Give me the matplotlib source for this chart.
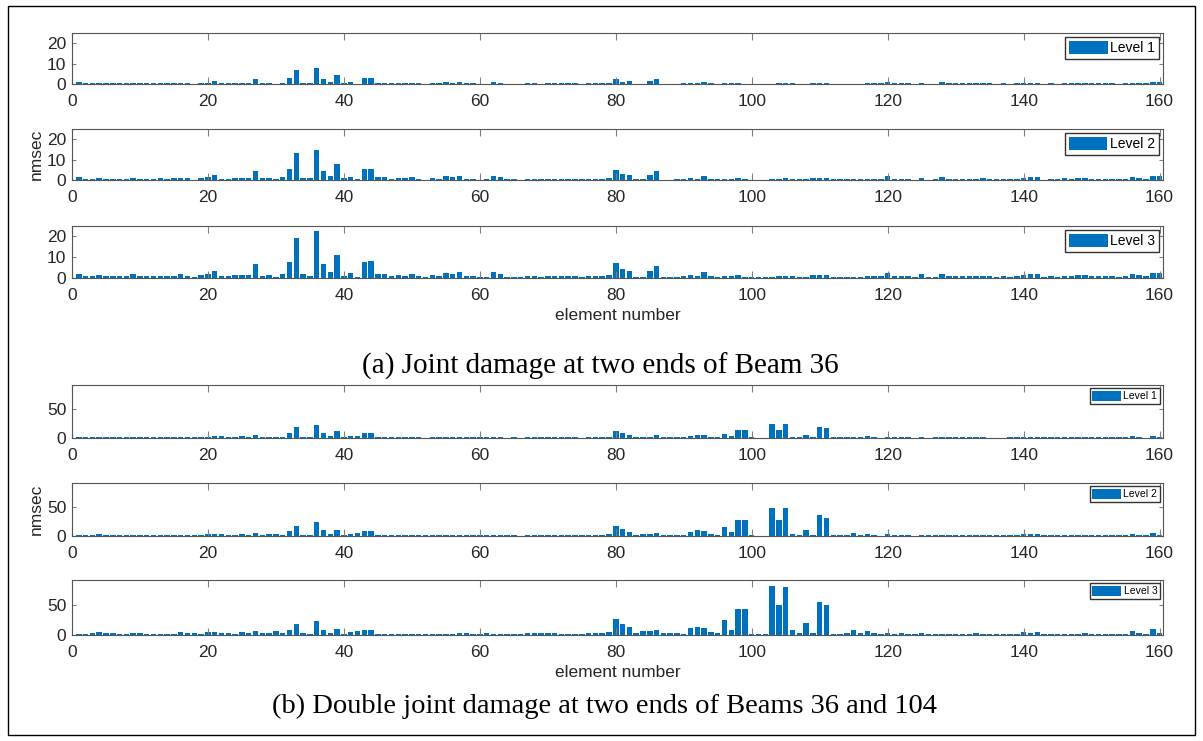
import numpy as np
import matplotlib.pyplot as plt
from matplotlib.patches import Rectangle

# nmsec values for elements 1..160
a_level1 = [
    0.8, 0.3, 0.3, 0.6, 0.3, 0.3, 0.4, 0.3, 0.6, 0.4,
    0.3, 0.3, 0.4, 0.4, 0.4, 0.6, 0.4, 0.1, 0.5, 0.7,
    1.3, 0.4, 0.4, 0.5, 0.5, 0.5, 2.3, 0.4, 0.5, 0.2,
    0.7, 3.0, 7.0, 0.6, 0.4, 8.0, 2.5, 1.1, 4.3, 0.4,
    0.8, 0.2, 2.8, 3.0, 0.7, 0.7, 0.3, 0.5, 0.4, 0.7,
    0.3, 0.1, 0.6, 0.4, 0.9, 0.7, 1.0, 0.4, 0.3, 0.1,
    0.2, 1.1, 0.7, 0.2, 0.2, 0.1, 0.4, 0.3, 0.2, 0.4,
    0.3, 0.3, 0.4, 0.3, 0.2, 0.4, 0.3, 0.3, 0.5, 2.3,
    1.0, 1.5, 0.2, 0.2, 1.3, 2.3, 0.1, 0.1, 0.2, 0.4,
    0.5, 0.4, 1.2, 0.4, 0.2, 0.4, 0.4, 0.5, 0.2, 0.1,
    0.1, 0.1, 0.2, 0.4, 0.5, 0.4, 0.2, 0.2, 0.5, 0.5,
    0.5, 0.2, 0.2, 0.2, 0.2, 0.2, 0.4, 0.4, 0.4, 1.0,
    0.4, 0.4, 0.4, 0.1, 0.6, 0.1, 0.2, 0.8, 0.4, 0.3,
    0.4, 0.3, 0.4, 0.4, 0.4, 0.2, 0.4, 0.2, 0.3, 0.5,
    0.7, 0.7, 0.1, 0.4, 0.2, 0.4, 0.3, 0.5, 0.5, 0.3,
    0.3, 0.3, 0.3, 0.2, 0.3, 0.7, 0.5, 0.4, 0.9, 0.9,
]
a_level2 = [
    1.5, 0.6, 0.6, 1.2, 0.6, 0.6, 0.7, 0.6, 1.1, 0.7,
    0.6, 0.6, 0.8, 0.7, 0.8, 1.2, 0.8, 0.2, 0.9, 1.3,
    2.5, 0.7, 0.7, 0.9, 1.0, 0.9, 4.5, 0.8, 0.9, 0.4,
    1.3, 5.5, 13.0, 1.2, 0.8, 14.5, 4.5, 2.0, 8.0, 0.8,
    1.5, 0.4, 5.2, 5.5, 1.4, 1.3, 0.5, 1.0, 0.8, 1.4,
    0.6, 0.2, 1.1, 0.7, 1.8, 1.4, 1.9, 0.7, 0.6, 0.2,
    0.3, 2.0, 1.3, 0.4, 0.3, 0.2, 0.7, 0.6, 0.4, 0.7,
    0.6, 0.6, 0.7, 0.6, 0.3, 0.7, 0.6, 0.6, 1.0, 5.0,
    2.8, 2.6, 0.3, 0.3, 2.5, 4.2, 0.2, 0.2, 0.3, 0.7,
    1.0, 0.7, 2.2, 0.7, 0.3, 0.7, 0.7, 1.0, 0.3, 0.2,
    0.2, 0.2, 0.3, 0.7, 0.9, 0.7, 0.3, 0.3, 1.0, 1.0,
    1.0, 0.3, 0.3, 0.3, 0.3, 0.3, 0.7, 0.7, 0.7, 1.8,
    0.7, 0.7, 0.7, 0.2, 1.2, 0.2, 0.3, 1.4, 0.7, 0.6,
    0.7, 0.6, 0.7, 0.8, 0.7, 0.3, 0.7, 0.3, 0.6, 1.0,
    1.4, 1.4, 0.2, 0.7, 0.3, 0.8, 0.6, 1.0, 1.0, 0.6,
    0.6, 0.6, 0.6, 0.3, 0.6, 1.4, 1.0, 0.7, 1.8, 1.8,
]
a_level3 = [
    2.0, 0.8, 0.9, 1.5, 0.8, 0.8, 1.0, 0.8, 1.8, 1.0,
    0.8, 0.9, 1.2, 1.0, 1.2, 1.8, 1.2, 0.3, 1.3, 2.0,
    3.5, 1.0, 1.0, 1.3, 1.5, 1.3, 6.5, 1.2, 1.3, 0.5,
    2.0, 7.8, 19.0, 1.8, 1.2, 22.5, 6.8, 3.0, 11.0, 1.2,
    2.2, 0.6, 7.7, 8.0, 2.0, 1.8, 0.8, 1.5, 1.2, 2.0,
    0.8, 0.3, 1.6, 1.0, 2.5, 2.0, 2.7, 1.0, 0.8, 0.3,
    0.5, 2.8, 1.8, 0.6, 0.5, 0.3, 1.0, 0.8, 0.6, 1.0,
    0.8, 0.8, 1.0, 0.8, 0.5, 1.0, 0.8, 0.8, 1.5, 7.0,
    4.2, 3.5, 0.5, 0.5, 3.5, 6.0, 0.3, 0.3, 0.5, 1.0,
    1.5, 1.0, 3.0, 1.0, 0.5, 1.0, 1.0, 1.5, 0.5, 0.3,
    0.3, 0.3, 0.5, 1.0, 1.2, 1.0, 0.5, 0.5, 1.5, 1.5,
    1.5, 0.5, 0.5, 0.5, 0.5, 0.5, 1.0, 1.0, 1.0, 2.5,
    1.0, 1.0, 1.0, 0.3, 1.8, 0.3, 0.5, 2.0, 1.0, 0.8,
    1.0, 0.8, 1.0, 1.2, 1.0, 0.5, 1.0, 0.5, 0.8, 1.5,
    2.0, 2.0, 0.3, 1.0, 0.5, 1.2, 0.8, 1.5, 1.5, 0.8,
    0.8, 0.8, 0.8, 0.5, 0.8, 2.0, 1.5, 1.0, 2.5, 2.5,
]
b_level1 = [
    1.5, 1, 1, 2.5, 2, 1.5, 1.5, 1, 1.5, 1.5,
    1, 1, 1.5, 1.5, 1.5, 2, 1.5, 1, 1, 2,
    4, 3, 1, 1, 3, 2, 6, 2, 2, 2.5,
    2, 8, 19, 2, 1.5, 23, 8, 3, 12, 1,
    3, 3, 9, 9, 1, 1, 1, 1, 1.5, 1.5,
    1, 0.5, 1, 1, 1, 1.5, 2.5, 2, 1, 1,
    1, 2, 1, 0.5, 1, 0.5, 1.5, 1.5, 2, 1.5,
    1.5, 1, 1, 1, 0.5, 1.5, 1.5, 1, 2, 13,
    8, 4.5, 1, 2.5, 2.5, 5, 1, 1, 1, 1,
    4, 4.5, 4.5, 2, 1, 7.5, 3.5, 14, 14, 1,
    0.5, 0.5, 24, 14, 24, 2, 1, 5, 1, 19,
    17, 1, 1, 1, 2, 1, 3, 1.5, 0.5, 2,
    1, 1, 1, 0.5, 1.5, 0.5, 1, 1.5, 1.5, 1,
    1, 1, 1.5, 1, 0.5, 0.5, 0.5, 1, 1.5, 2,
    2, 2, 1, 1, 1, 1, 1, 1.5, 1.5, 1,
    1, 1, 1, 1, 1, 3, 2, 0.5, 4, 1.5,
]
b_level2 = [
    2, 1.5, 1.5, 3, 2, 2, 2, 1.5, 1.5, 1.5,
    1.5, 1.5, 1.5, 1.5, 1.5, 2.5, 2, 1.5, 1.5, 3,
    4, 3, 1.5, 1.5, 3, 2.5, 5, 2.5, 3, 3,
    2.5, 8, 18, 2, 2, 24, 10, 3, 11, 1.5,
    4, 5, 9, 9, 1.5, 1.5, 1.5, 1.5, 1.5, 1.5,
    1.5, 1, 1.5, 1.5, 1.5, 1.5, 2.5, 2, 1.5, 1.5,
    1.5, 2.5, 1.5, 1, 1.5, 0.5, 2, 2, 2.5, 2,
    2, 1.5, 1.5, 1.5, 1, 2, 2, 1.5, 3, 18,
    12, 7, 1.5, 4, 4, 6, 2, 2, 2, 1.5,
    7, 10, 8, 4, 2, 15, 6.5, 27, 27, 1,
    0.5, 0.5, 48, 27, 48, 4, 2, 11, 2, 36,
    32, 1.5, 1.5, 2, 5, 2, 4, 2, 0.5, 3,
    1.5, 1.5, 1.5, 0.5, 2, 1, 1.5, 1.5, 1.5, 1.5,
    1.5, 2, 2, 1.5, 1, 1, 1, 1.5, 2, 3,
    3, 3, 1.5, 1.5, 1.5, 1.5, 1.5, 1.5, 2, 1.5,
    1.5, 1.5, 1.5, 1.5, 1.5, 4, 2.5, 1, 6, 2,
]
b_level3 = [
    2.5, 2.5, 3.0, 5.0, 3.0, 4.0, 2.0, 2.5, 3.0, 3.0,
    2.5, 2.5, 2.5, 2.5, 2.5, 5.0, 4.0, 3.0, 2.0, 5.0,
    5.0, 4.0, 3.0, 2.5, 5.0, 3.5, 6.0, 4.0, 3.5, 6.0,
    4.0, 8.0, 18.0, 3.0, 2.0, 23.5, 9.0, 3.0, 10.0, 2.5,
    5.0, 7.0, 9.0, 9.0, 2.5, 2.0, 2.0, 2.0, 2.0, 2.0,
    2.0, 2.0, 2.5, 2.0, 2.0, 2.0, 3.5, 3.0, 2.5, 2.0,
    3.0, 2.5, 2.5, 2.0, 2.5, 1.0, 3.0, 3.5, 3.5, 3.0,
    3.0, 2.5, 2.5, 2.5, 1.5, 3.0, 3.0, 3.0, 5.0, 26.0,
    19.0, 13.0, 3.0, 7.0, 6.0, 8.0, 3.5, 3.5, 3.5, 2.0,
    11.0, 14.0, 11.0, 5.0, 3.0, 24.5, 9.0, 44.0, 44.0, 2.0,
    1.5, 1.5, 82.0, 51.0, 80.0, 8.0, 4.0, 20.0, 4.0, 55.0,
    50.0, 2.5, 2.5, 3.0, 8.0, 3.0, 7.0, 3.5, 1.0, 4.0,
    2.0, 3.0, 2.5, 1.0, 3.5, 2.0, 2.0, 2.5, 2.5, 2.0,
    2.0, 2.5, 3.0, 2.0, 1.5, 1.5, 1.5, 2.0, 2.5, 5.0,
    4.0, 4.5, 2.5, 2.5, 2.5, 2.5, 2.5, 2.5, 3.0, 2.0,
    2.0, 2.0, 2.5, 2.0, 2.0, 7.0, 4.0, 1.5, 10.0, 3.0,
]

elements = np.arange(1, 161)
W, H = 1203, 741
bar_color = '#0072BD'

fig = plt.figure(figsize=(W / 100, H / 100), dpi=100)
plt.rcParams['font.family'] = ['Liberation Sans', 'DejaVu Sans']

def px_axes(left, top, right, bottom):
    return fig.add_axes([left / W, 1 - bottom / H, (right - left) / W, (bottom - top) / H])

panels = [
    # data, label, top, bottom, ylim, yticks, legend font
    (a_level1, 'Level 1', 33, 84, 25, [0, 10, 20], 10),
    (a_level2, 'Level 2', 129, 180, 25, [0, 10, 20], 10),
    (a_level3, 'Level 3', 226, 278, 25, [0, 10, 20], 10),
    (b_level1, 'Level 1', 385, 438, 92, [0, 50], 7.5),
    (b_level2, 'Level 2', 483, 536, 92, [0, 50], 7.5),
    (b_level3, 'Level 3', 580, 635, 92, [0, 50], 7.5),
]

axes = []
for vals, lab, top, bot, ymax, yt, lfs in panels:
    ax = px_axes(72, top, 1163, bot)
    ax.bar(elements, vals, width=0.8, color=bar_color, label=lab)
    ax.set_xlim(0, 160.5)
    ax.set_ylim(0, ymax)
    ax.set_xticks(np.arange(0, 161, 20))
    ax.set_yticks(yt)
    ax.tick_params(direction='in', top=True, right=True, labelsize=12.5,
                   colors='#262626', width=0.8)
    ax.tick_params(axis='x', length=5, color='#808080', pad=7)
    ax.tick_params(axis='y', length=3, color='#808080', pad=4)
    for s in ax.spines.values():
        s.set_color('#555555')
        s.set_linewidth(0.8)
    ax.legend(loc='upper right', fontsize=lfs, frameon=True, fancybox=False,
              edgecolor='#333333', framealpha=1, handlelength=2.8,
              handleheight=1.1, handletextpad=0.2, borderpad=0.25,
              borderaxespad=0.3)
    axes.append(ax)

for i in (1, 4):
    axes[i].set_ylabel('nmsec', fontsize=12.5, color='#262626', labelpad=2)
for i in (2, 5):
    axes[i].set_xlabel('element number', fontsize=12.5, color='#262626', labelpad=4)

fig.text(600 / W, 1 - 366 / H, '(a) Joint damage at two ends of Beam 36',
         ha='center', va='center', fontsize=21, family='Liberation Serif')
fig.text(605 / W, 1 - 706 / H, '(b) Double joint damage at two ends of Beams 36 and 104',
         ha='center', va='center', fontsize=20.5, family='Liberation Serif')

# outer frame around the whole figure
fig.patches.append(Rectangle((8 / W, 6 / H), (1195 - 8) / W, (735 - 6) / H,
                             transform=fig.transFigure, fill=False,
                             edgecolor='black', linewidth=1))

fig.savefig('out.png', dpi=100)
